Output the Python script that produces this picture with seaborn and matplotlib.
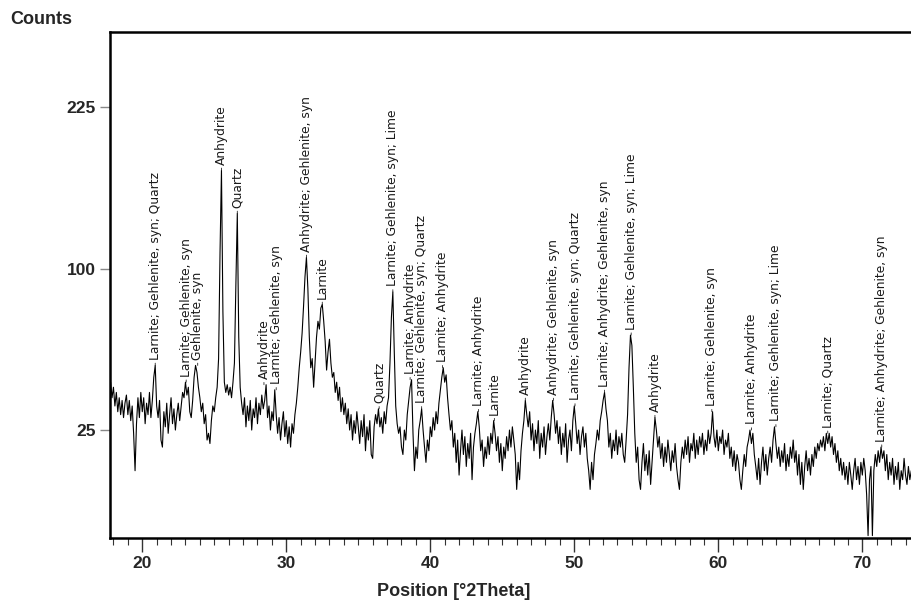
import numpy as np
import pandas as pd
import matplotlib
matplotlib.use("Agg")
import matplotlib.pyplot as plt
import seaborn as sns

# ---- data: XRD scan, 0.1 deg 2Theta step starting at 17.8 ----
scan_start = 17.8
scan_step = 0.1

counts_18_30 = [
    42, 36,
    40, 33, 38, 31, 36, 30, 35, 29, 34, 37,
    30, 35, 28, 33, 24, 14, 27, 36, 29, 38,
    31, 36, 27, 34, 30, 38, 29, 35, 44, 49,
    33, 29, 35, 22, 20, 31, 26, 34, 24, 30,
    36, 27, 32, 25, 30, 34, 28, 33, 38, 36,
    42, 37, 40, 31, 29, 35, 44, 49, 46, 40,
    36, 31, 34, 27, 30, 22, 24, 21, 28, 33,
    31, 36, 40, 52, 110, 170, 75, 42, 38, 41,
    37, 40, 36, 42, 50, 90, 137, 62, 40, 34,
    30, 36, 26, 33, 28, 35, 25, 32, 29, 36,
    27, 34, 30, 37, 32, 35, 41, 29, 33, 25,
    31, 28, 39, 30, 24, 29, 22, 27, 31, 23,
]
counts_30_42 = [
    28, 21, 26, 20, 27, 24, 30, 34, 40, 48,
    55, 64, 78, 95, 107, 88, 62, 48, 52, 40,
    50, 62, 70, 66, 77, 79, 70, 60, 47, 55,
    61, 50, 44, 46, 38, 42, 35, 40, 31, 36,
    30, 34, 27, 32, 25, 30, 22, 28, 24, 31,
    26, 21, 28, 23, 30, 19, 26, 22, 28, 18,
    17, 26, 30, 27, 32, 26, 29, 24, 31, 27,
    33, 36, 50, 72, 86, 55, 33, 27, 24, 26,
    20, 18, 25, 22, 30, 35, 40, 43, 24, 14,
    20, 17, 25, 28, 32, 25, 20, 16, 22, 19,
    26, 23, 29, 25, 31, 27, 34, 39, 44, 48,
    42, 45, 36, 30, 25, 28, 20, 24, 16, 22,
]
counts_42_54 = [
    13, 19, 25, 18, 23, 15, 21, 17, 24, 12,
    20, 24, 27, 31, 26, 19, 22, 15, 20, 17,
    23, 18, 24, 21, 28, 24, 19, 23, 16, 21,
    14, 20, 17, 23, 19, 25, 20, 26, 22, 18,
    10, 16, 12, 19, 24, 28, 35, 30, 26, 31,
    22, 27, 19, 25, 21, 28, 17, 24, 20, 26,
    18, 23, 27, 22, 29, 35, 30, 24, 28, 21,
    26, 18, 24, 20, 27, 16, 22, 25, 19, 28,
    33, 27, 21, 25, 18, 23, 26, 20, 24, 17,
    14, 10, 16, 12, 18, 21, 25, 22, 28, 31,
    35, 38, 32, 28, 20, 24, 17, 22, 19, 25,
    18, 23, 20, 24, 18, 16, 22, 30, 48, 63,
]
counts_54_66 = [
    58, 40, 24, 16, 20, 12, 10, 16, 21, 14,
    18, 13, 19, 11, 16, 22, 29, 25, 20, 23,
    17, 21, 15, 20, 16, 22, 18, 14, 19, 16,
    21, 15, 12, 10, 16, 20, 17, 22, 18, 23,
    16, 21, 19, 24, 17, 22, 18, 23, 20, 24,
    18, 22, 19, 25, 21, 24, 31, 23, 20, 25,
    19, 23, 21, 25, 18, 22, 20, 24, 17, 20,
    15, 19, 14, 18, 16, 12, 10, 14, 18, 15,
    20, 22, 25, 21, 24, 18, 15, 12, 17, 11,
    16, 20, 14, 18, 13, 17, 20, 16, 22, 26,
    21, 17, 20, 15, 19, 16, 21, 14, 18, 15,
    20, 17, 22, 16, 19, 13, 18, 11, 16, 10,
]
counts_66_74 = [
    15, 19, 14, 17, 13, 18, 15, 20, 17, 21,
    19, 22, 20, 23, 19, 24, 21, 24, 20, 23,
    18, 21, 16, 19, 14, 17, 13, 16, 12, 15,
    11, 16, 13, 10, 14, 17, 12, 15, 11, 16,
    13, 17, 14, 9, 3, 12, 15, 3, 14, 18,
    15, 19, 16, 20, 17, 19, 14, 18, 12, 16,
    13, 17, 11, 15, 12, 16, 10, 14, 12, 17,
    13, 11, 15, 12, 14,
]

peak_positions = [20.9, 23.05, 23.85, 25.5, 26.6, 28.45, 29.3, 31.4, 32.5, 36.45,
                  37.4, 38.6, 39.4, 40.85, 43.35, 44.45, 46.6, 48.55, 50.05,
                  52.1, 53.95, 55.6, 59.55, 62.3, 64.0, 67.6, 71.35]
peak_labels = [
    "Larnite; Gehlenite, syn; Quartz",
    "Larnite; Gehlenite, syn",
    "Gehlenite, syn",
    "Anhydrite",
    "Quartz",
    "Anhydrite",
    "Larnite; Gehlenite, syn",
    "Anhydrite; Gehlenite, syn",
    "Larnite",
    "Quartz",
    "Larnite; Gehlenite, syn; Lime",
    "Larnite; Anhydrite",
    "Larnite; Gehlenite, syn; Quartz",
    "Larnite; Anhydrite",
    "Larnite; Anhydrite",
    "Larnite",
    "Anhydrite",
    "Anhydrite; Gehlenite, syn",
    "Larnite; Gehlenite, syn; Quartz",
    "Larnite; Anhydrite; Gehlenite, syn",
    "Larnite; Gehlenite, syn; Lime",
    "Anhydrite",
    "Larnite; Gehlenite, syn",
    "Larnite; Anhydrite",
    "Larnite; Gehlenite, syn; Lime",
    "Larnite; Quartz",
    "Larnite; Anhydrite; Gehlenite, syn",
]

y_ticks = [25, 100, 225]
x_ticks = [20, 30, 40, 50, 60, 70]

# ---- build frame ----
counts = np.array(counts_18_30 + counts_30_42 + counts_42_54 + counts_54_66 + counts_66_74, dtype=float)
two_theta = np.round(scan_start + scan_step * np.arange(len(counts)), 2)
df = pd.DataFrame({"two_theta": two_theta, "counts": counts})

sns.set_style("white")
plt.rcParams["font.family"] = ["DejaVu Sans"]

fig = plt.figure(figsize=(9.12, 6.0), dpi=100)
ax = fig.add_axes([110 / 912, 1 - 538 / 600, 802 / 912, 506 / 600])

ax.set_yscale("function", functions=(lambda v: np.sqrt(np.clip(v, 0, None)), lambda s: np.square(s)))

sns.lineplot(data=df, x="two_theta", y="counts", ax=ax, color="black",
             linewidth=0.8, estimator=None, sort=True)

ax.set_xlim(17.76, 73.45)
ax.set_ylim(2.75, 300)

# labels
for pos, lab in zip(peak_positions, peak_labels):
    sel = df[(df.two_theta >= pos - 0.16) & (df.two_theta <= pos + 0.16)]
    top = sel.counts.max()
    ax.annotate(lab, xy=(pos, top), xytext=(0, 4), textcoords="offset points",
                rotation=90, ha="center", va="bottom", fontsize=8.8,
                family="DejaVu Sans", color="#1a1a1a",
                arrowprops=dict(arrowstyle="-", lw=0.6, color="#222222",
                                shrinkA=0, shrinkB=0))

# axes styling
for side in ["left", "top", "bottom"]:
    ax.spines[side].set_visible(True)
    ax.spines[side].set_linewidth(1.8)
    ax.spines[side].set_color("black")
ax.spines["right"].set_visible(False)

ax.set_yticks(y_ticks)
ax.set_yticklabels([str(t) for t in y_ticks])
ax.yaxis.set_minor_locator(matplotlib.ticker.NullLocator())
ax.set_xticks(x_ticks)
ax.set_xticks(np.arange(18, 74, 1), minor=True)

ax.tick_params(axis="y", which="major", direction="out", length=7, width=1,
               color="#888888", pad=3, left=True)
ax.tick_params(axis="x", which="major", direction="out", length=10, width=1,
               color="#333333", pad=3, bottom=True)
ax.tick_params(axis="x", which="minor", direction="out", length=5, width=0.8,
               color="#333333", bottom=True)

for t in ax.get_xticklabels() + ax.get_yticklabels():
    t.set_fontfamily("Liberation Sans")
    t.set_fontweight("bold")
    t.set_fontsize(12.5)

ax.set_xlabel("")
ax.set_ylabel("")

fig.text(10 / 912, 1 - 20 / 600, "Counts", ha="left", va="center",
         fontsize=13, fontweight="bold", family="Liberation Sans")
fig.text(454 / 912, 1 - 591 / 600, "Position [°2Theta]", ha="center", va="center",
         fontsize=13, fontweight="bold", family="Liberation Sans")

fig.savefig("out.png", dpi=100)
